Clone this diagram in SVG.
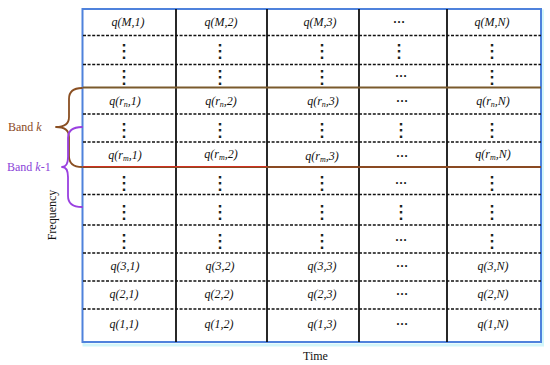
<svg xmlns="http://www.w3.org/2000/svg" width="550" height="365" viewBox="0 0 550 365">
<style>
.q{font-family:"Liberation Serif","Times New Roman",serif;font-size:12px;font-style:italic;fill:#111111;text-anchor:middle}
.s{font-size:8px}
.vd{font-family:"DejaVu Sans",sans-serif;font-size:18px;fill:#111111;stroke:#111111;stroke-width:0.3;text-anchor:middle}
.hd{font-family:"Liberation Serif","Times New Roman",serif;font-size:12px;font-weight:bold;fill:#111111;text-anchor:middle}
.lab{font-family:"Liberation Serif","Times New Roman",serif;font-size:12px;fill:#111111}
.dash{stroke:#111;stroke-width:1.6;stroke-dasharray:3 1.6;fill:none}
.vl{stroke:#111;stroke-width:1.8;fill:none}
.brace{fill:none;stroke-width:1.8;stroke-linejoin:round;stroke-linecap:round}
</style>
<rect x="0" y="0" width="550" height="365" fill="#ffffff"/>
<g id="grid">
<rect x="84" y="11" width="458.5" height="334" fill="none" stroke="#d2f6fa" stroke-width="3"/>
<rect x="82.5" y="9" width="458.5" height="333" fill="#ffffff" stroke="#4f82dc" stroke-width="2"/>
<line class="vl" x1="176" y1="9" x2="176" y2="342"/>
<line class="vl" x1="267" y1="9" x2="267" y2="342"/>
<line class="vl" x1="359" y1="9" x2="359" y2="342"/>
<line class="vl" x1="447" y1="9" x2="447" y2="342"/>
<line class="dash" x1="83" y1="35.5" x2="541" y2="35.5"/>
<line class="dash" x1="83" y1="64.5" x2="541" y2="64.5"/>
<line class="dash" x1="83" y1="114" x2="541" y2="114"/>
<line class="dash" x1="83" y1="142" x2="541" y2="142"/>
<line class="dash" x1="83" y1="194.5" x2="541" y2="194.5"/>
<line class="dash" x1="83" y1="225" x2="541" y2="225"/>
<line class="dash" x1="83" y1="253" x2="541" y2="253"/>
<line class="dash" x1="83" y1="281" x2="541" y2="281"/>
<line class="dash" x1="83" y1="309" x2="541" y2="309"/>
<line x1="83" y1="87.5" x2="541" y2="87.5" stroke="#7a5a2c" stroke-width="2"/>
<line x1="83" y1="167" x2="541" y2="167" stroke="#8a4a22" stroke-width="2"/>
<line x1="83" y1="166.5" x2="267" y2="166.5" stroke="#d03020" stroke-width="1"/>
</g>
<g id="row-M">
<text class="q" x="128" y="26">q(M,1)</text>
<text class="q" x="221" y="26">q(M,2)</text>
<text class="q" x="320" y="26">q(M,3)</text>
<text class="hd" x="399" y="23">…</text>
<text class="q" x="492" y="26">q(M,N)</text>
</g>
<g id="row-dots-1">
<text class="vd" x="124" y="57">⋮</text>
<text class="vd" x="220" y="57">⋮</text>
<text class="vd" x="322" y="57">⋮</text>
<text class="vd" x="399" y="57">⋮</text>
<text class="vd" x="492" y="57">⋮</text>
</g>
<g id="row-dots-2">
<text class="vd" x="124" y="83">⋮</text>
<text class="vd" x="220" y="83">⋮</text>
<text class="vd" x="322" y="83">⋮</text>
<text class="hd" x="401" y="77">…</text>
<text class="vd" x="492" y="83">⋮</text>
</g>
<g id="row-rn">
<text class="q" x="125" y="105">q(r<tspan class="s" dy="2">n</tspan><tspan dy="-2">,1)</tspan></text>
<text class="q" x="221" y="105">q(r<tspan class="s" dy="2">n</tspan><tspan dy="-2">,2)</tspan></text>
<text class="q" x="323" y="105">q(r<tspan class="s" dy="2">n</tspan><tspan dy="-2">,3)</tspan></text>
<text class="hd" x="402" y="102">…</text>
<text class="q" x="493" y="105">q(r<tspan class="s" dy="2">n</tspan><tspan dy="-2">,N)</tspan></text>
</g>
<g id="row-dots-3">
<text class="vd" x="124" y="136">⋮</text>
<text class="vd" x="220" y="136">⋮</text>
<text class="vd" x="322" y="136">⋮</text>
<text class="vd" x="401" y="136">⋮</text>
<text class="vd" x="492" y="136">⋮</text>
</g>
<g id="row-rm">
<text class="q" x="125" y="159">q(r<tspan class="s" dy="2">m</tspan><tspan dy="-2">,1)</tspan></text>
<text class="q" x="221" y="158">q(r<tspan class="s" dy="2">m</tspan><tspan dy="-2">,2)</tspan></text>
<text class="q" x="322" y="160">q(r<tspan class="s" dy="2">m</tspan><tspan dy="-2">,3)</tspan></text>
<text class="hd" x="402" y="157">…</text>
<text class="q" x="493" y="158">q(r<tspan class="s" dy="2">m</tspan><tspan dy="-2">,N)</tspan></text>
</g>
<g id="row-dots-4">
<text class="vd" x="124" y="189">⋮</text>
<text class="vd" x="220" y="189">⋮</text>
<text class="vd" x="322" y="189">⋮</text>
<text class="hd" x="401" y="184">…</text>
<text class="vd" x="492" y="189">⋮</text>
</g>
<g id="row-dots-5">
<text class="vd" x="124" y="218">⋮</text>
<text class="vd" x="220" y="218">⋮</text>
<text class="vd" x="322" y="218">⋮</text>
<text class="vd" x="401" y="218">⋮</text>
<text class="vd" x="492" y="218">⋮</text>
</g>
<g id="row-dots-6">
<text class="vd" x="124" y="247">⋮</text>
<text class="vd" x="220" y="247">⋮</text>
<text class="vd" x="322" y="247">⋮</text>
<text class="hd" x="401" y="241">…</text>
<text class="vd" x="492" y="247">⋮</text>
</g>
<g id="row-3">
<text class="q" x="125" y="270">q(3,1)</text>
<text class="q" x="220" y="270">q(3,2)</text>
<text class="q" x="322" y="270">q(3,3)</text>
<text class="hd" x="402" y="267">…</text>
<text class="q" x="493" y="270">q(3,N)</text>
</g>
<g id="row-2">
<text class="q" x="124" y="298">q(2,1)</text>
<text class="q" x="219" y="298">q(2,2)</text>
<text class="q" x="322" y="298">q(2,3)</text>
<text class="hd" x="402" y="295">…</text>
<text class="q" x="493" y="298">q(2,N)</text>
</g>
<g id="row-1">
<text class="q" x="124" y="328">q(1,1)</text>
<text class="q" x="219" y="328">q(1,2)</text>
<text class="q" x="322" y="328">q(1,3)</text>
<text class="hd" x="402" y="325">…</text>
<text class="q" x="493" y="328">q(1,N)</text>
</g>
<g id="band-k">
<path class="brace" stroke="#8a4f22" d="M82,88 Q69,88 69,99 L69,117 Q69,127 56,127 Q69,127 69,137 L69,156 Q69,167 82,167"/>
<text class="lab" x="8" y="131" style="fill:#8a4a26">Band <tspan font-style="italic">k</tspan></text>
</g>
<g id="band-k-1">
<path class="brace" stroke="#9a40e0" d="M82,127 Q68,127 68,138 L68,157 Q68,167 62,167 Q68,167 68,177 L68,196 Q68,207 82,207"/>
<text class="lab" x="7" y="171" style="fill:#8a44d8">Band <tspan font-style="italic">k</tspan>-1</text>
</g>
<g id="axis-labels">
<text class="lab" transform="translate(56,215) rotate(-90)" text-anchor="middle">Frequency</text>
<text class="lab" x="303" y="360">Time</text>
</g>
</svg>
